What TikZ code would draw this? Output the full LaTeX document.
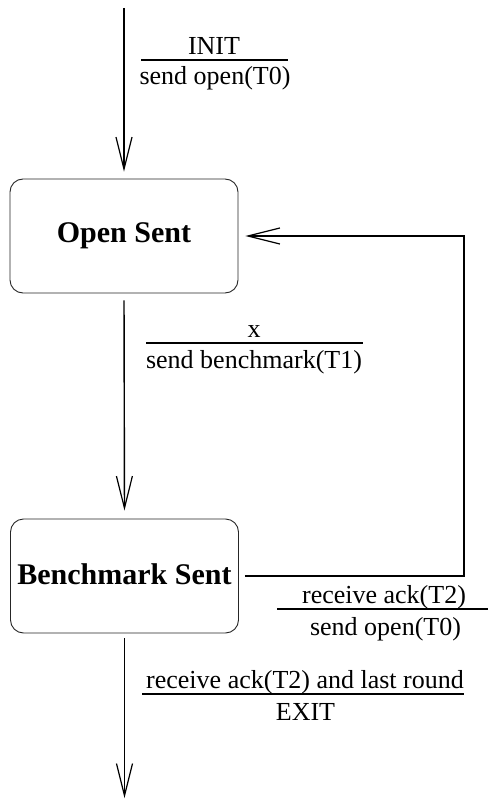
\documentclass[tikz,border=0pt]{standalone}
\usepackage{fontspec}
\setmainfont{Liberation Serif}
\usetikzlibrary{arrows.meta}
\begin{document}
\begin{tikzpicture}[x=1pt,y=-1pt,
  statebox/.style={draw=black!85,line width=0.9pt,rounded corners=13pt,minimum width=228pt,minimum height=114pt,inner sep=0pt,font=\fontsize{30}{34}\selectfont\bfseries},
  arr/.style={line width=1.4pt,-{Straight Barb[length=32pt,width=16pt,line width=1.2pt]}},
  lbl/.style={inner sep=0pt,anchor=base,font=\fontsize{26}{30}\selectfont},
  bar/.style={line width=1.4pt}]
\useasboundingbox (0,0) rectangle (488,799);
\node[statebox] (os) at (124,236) {Open Sent};
\node[statebox] (bs) at (124.5,576) {\raisebox{4pt}{Benchmark Sent}};
\coordinate (start) at (124,8);
\coordinate (finish) at (124.5,798);
\coordinate (loopc) at (464,400);
\draw[arr,shorten >=7pt] (start) -- (os.north);
\draw[arr,shorten <=7pt,shorten >=8pt] (os.south) -- (bs.north);
\draw[arr,shorten <=5pt] (bs.south) -- (finish);
\draw[arr] ([xshift=6pt]bs.east) -| (loopc) |- ([xshift=7pt]os.east);
% labels
\node[lbl] (l1a) at (214,55) {INIT};
\draw[bar] (141,60) -- (288,60);
\node[lbl] (l1b) at (215,85) {send open(T0)};
\node[lbl] (l2a) at (254,337) {x};
\draw[bar] (146,343) -- (363,343);
\node[lbl] (l2b) at (254,368) {send benchmark(T1)};
\node[lbl] (l3a) at (384,603) {receive ack(T2)};
\draw[bar] (277,609) -- (488,609);
\node[lbl] (l3b) at (385.5,635) {send open(T0)};
\node[lbl] (l4a) at (305,688) {receive ack(T2) and last round};
\draw[bar] (142,694) -- (464,694);
\node[lbl] (l4b) at (305.5,720) {EXIT};
\end{tikzpicture}
\end{document}
